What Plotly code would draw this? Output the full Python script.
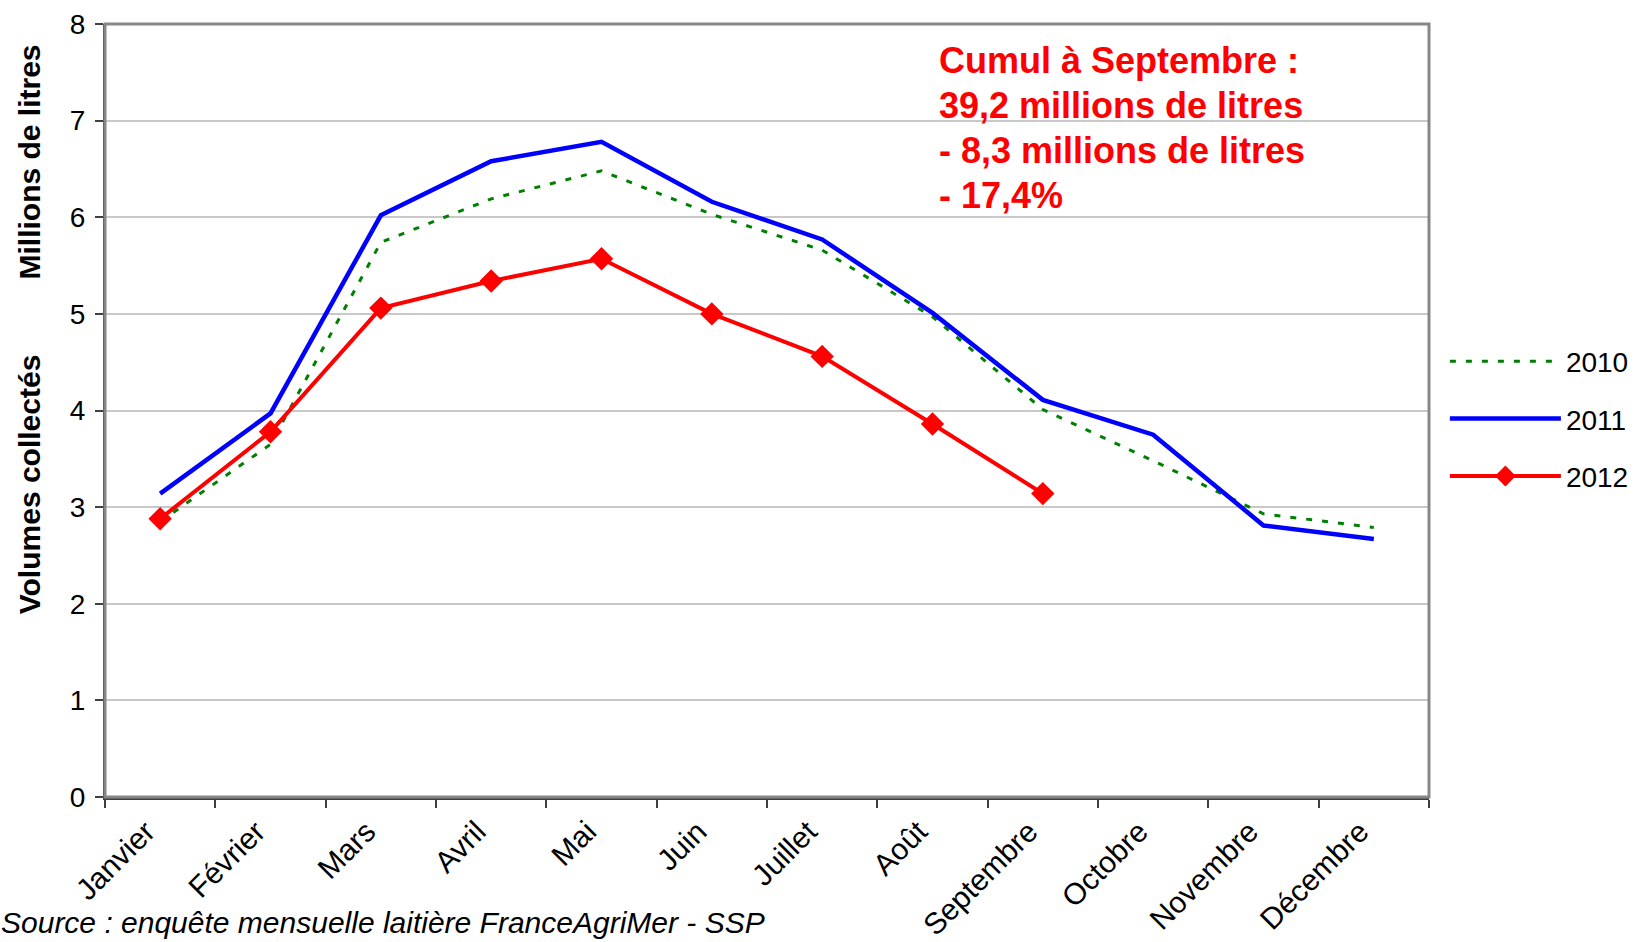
import plotly.graph_objects as go

# Data (millions de litres)
months = ['Janvier', 'Février', 'Mars', 'Avril', 'Mai', 'Juin', 'Juillet',
          'Août', 'Septembre', 'Octobre', 'Novembre', 'Décembre']
vol_2010 = [2.85, 3.65, 5.74, 6.19, 6.48, 6.03, 5.66, 4.97, 4.01, 3.48, 2.93, 2.79]
vol_2011 = [3.14, 3.97, 6.02, 6.58, 6.78, 6.16, 5.77, 5.01, 4.11, 3.75, 2.81, 2.67]
vol_2012 = [2.88, 3.78, 5.06, 5.34, 5.57, 5.00, 4.56, 3.86, 3.14]

note_lines = ['Cumul à Septembre :', '39,2 millions de litres',
              '- 8,3 millions de litres', '- 17,4%']
source_text = 'Source : enquête mensuelle laitière FranceAgriMer - SSP'

FONT = 'Liberation Sans, Arial, sans-serif'

fig = go.Figure()
fig.add_trace(go.Scatter(x=months, y=vol_2010, name='2010', mode='lines',
                         line=dict(color='#008000', width=3, dash='6px,10px'),
                         legendgroup='a'))
fig.add_trace(go.Scatter(x=months, y=vol_2011, name='2011', mode='lines',
                         line=dict(color='#0000ff', width=4.5),
                         legendgroup='b'))
fig.add_trace(go.Scatter(x=months[:len(vol_2012)], y=vol_2012, name='2012',
                         mode='lines+markers',
                         line=dict(color='#ff0000', width=4),
                         marker=dict(symbol='diamond', size=18, color='#ff0000'),
                         legendgroup='c'))

annotations = []
# red note, one annotation per line (plot area is 773 px high)
for i, line in enumerate(note_lines):
    annotations.append(dict(
        text=line, xref='paper', yref='paper',
        x=0.6285, y=0.953 - i * 0.0585, xanchor='left', yanchor='middle',
        showarrow=False,
        font=dict(family=FONT, size=36, color='#ff0000', weight='bold')))

annotations += [
    dict(text='Volumes collectés', xref='paper', yref='paper',
         x=-0.057, y=0.404, xanchor='center', yanchor='middle',
         textangle=-90, showarrow=False,
         font=dict(family=FONT, size=30, color='black', weight='bold')),
    dict(text='Millions de litres', xref='paper', yref='paper',
         x=-0.057, y=0.8215, xanchor='center', yanchor='middle',
         textangle=-90, showarrow=False,
         font=dict(family=FONT, size=30, color='black', weight='bold')),
    dict(text='<i>' + source_text + '</i>', xref='paper', yref='paper',
         x=-0.08, y=-0.162, xanchor='left', yanchor='middle',
         showarrow=False, font=dict(family=FONT, size=30, color='black')),
]

shapes = [
    # white box behind the note
    dict(type='rect', xref='paper', yref='paper', x0=0.623, x1=0.99,
         y0=0.74, y1=0.995, fillcolor='white', line=dict(width=0),
         layer='between'),
    # plot frame
    dict(type='rect', xref='paper', yref='paper', x0=0, x1=1, y0=0, y1=1,
         line=dict(color='#878787', width=3), layer='above'),
]

fig.update_layout(
    width=1639, height=942,
    margin=dict(l=105, r=210, t=24, b=145, autoexpand=False),
    paper_bgcolor='white', plot_bgcolor='white',
    font=dict(family=FONT, size=26, color='black'),
    showlegend=True,
    legend=dict(x=1.012, y=0.489, xanchor='left', yanchor='middle',
                font=dict(family=FONT, size=28, color='black'),
                itemwidth=111, tracegroupgap=18, bgcolor='rgba(0,0,0,0)'),
    annotations=annotations,
    shapes=shapes,
)

fig.update_xaxes(type='category', range=[-0.5, 11.5], tickangle=-45,
                 ticks='outside', tickson='boundaries', ticklen=8,
                 tickcolor='#404040', tickwidth=1.5, automargin=False,
                 ticklabelshift=-14, ticklabelstandoff=2,
                 showline=True, linecolor='#404040', linewidth=3,
                 showgrid=False, tickfont=dict(size=30))
fig.update_yaxes(range=[0, 8], dtick=1, ticks='outside', ticklen=8,
                 tickcolor='#404040', tickwidth=1.5, automargin=False,
                 ticklabelstandoff=4,
                 showline=True, linecolor='#404040', linewidth=2,
                 showgrid=True, gridcolor='#c8c8c8', gridwidth=1.5,
                 zeroline=False, tickfont=dict(size=28))

# the page body has a default 8px margin; drop it so the figure fills the window
fig.write_html('out.html', config={'displayModeBar': False},
               post_script="document.body.style.margin='0';")
